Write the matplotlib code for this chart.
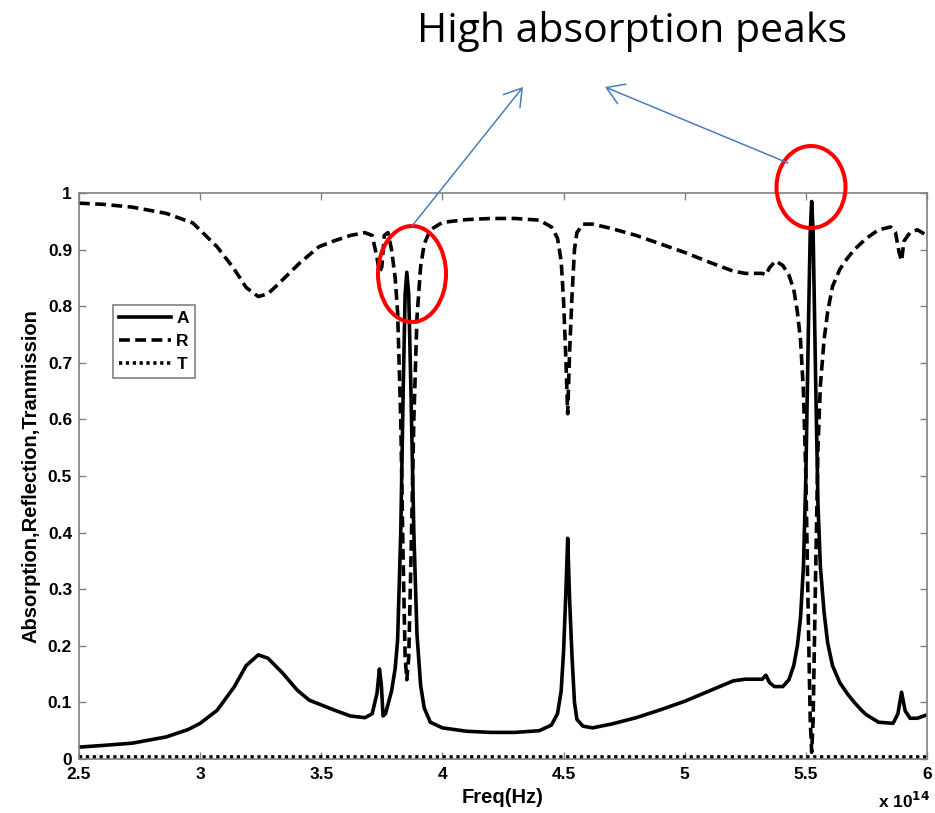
import matplotlib.pyplot as plt
from matplotlib.patches import Ellipse, FancyArrowPatch

# frequency in units of 1e14 Hz
freq_a = [2.50, 2.60, 2.72, 2.86, 2.95, 3.00, 3.07, 3.14, 3.19, 3.24, 3.28, 3.34,
          3.40, 3.45, 3.55, 3.62, 3.68, 3.71, 3.73, 3.74, 3.748, 3.755, 3.765, 3.78,
          3.79, 3.805, 3.815, 3.828, 3.838, 3.846, 3.853, 3.861, 3.870, 3.882, 3.895,
          3.91, 3.925, 3.95, 4.00, 4.10, 4.20, 4.30, 4.40, 4.45, 4.475, 4.49, 4.50,
          4.51, 4.517, 4.525, 4.535, 4.545, 4.555, 4.58, 4.62, 4.70, 4.80, 4.90, 5.00,
          5.10, 5.20, 5.25, 5.32, 5.335, 5.35, 5.37, 5.405, 5.43, 5.45, 5.465, 5.478,
          5.49, 5.50, 5.51, 5.518, 5.524, 5.53, 5.54, 5.55, 5.56, 5.575, 5.59, 5.61,
          5.64, 5.67, 5.70, 5.73, 5.75, 5.80, 5.86, 5.88, 5.895, 5.91, 5.93, 5.96, 6.00]
absorption = [0.021, 0.024, 0.028, 0.039, 0.052, 0.063, 0.086, 0.127, 0.165, 0.184, 0.178, 0.152,
              0.122, 0.104, 0.087, 0.076, 0.073, 0.080, 0.116, 0.159, 0.130, 0.076, 0.080, 0.104,
              0.120, 0.160, 0.210, 0.400, 0.650, 0.820, 0.860, 0.820, 0.650, 0.400, 0.220,
              0.130, 0.090, 0.065, 0.055, 0.049, 0.047, 0.047, 0.050, 0.060, 0.080, 0.120, 0.190,
              0.300, 0.390, 0.280, 0.180, 0.100, 0.070, 0.058, 0.055, 0.062, 0.073, 0.087, 0.102,
              0.120, 0.138, 0.141, 0.141, 0.148, 0.135, 0.128, 0.128, 0.140, 0.165, 0.200, 0.250,
              0.340, 0.500, 0.750, 0.930, 0.985, 0.930, 0.680, 0.450, 0.340, 0.260, 0.205, 0.165,
              0.135, 0.116, 0.100, 0.086, 0.078, 0.065, 0.063, 0.080, 0.118, 0.085, 0.072, 0.072, 0.078]

freq_r = [2.50, 2.60, 2.72, 2.86, 2.97, 3.07, 3.14, 3.19, 3.24, 3.28, 3.32, 3.41,
          3.49, 3.55, 3.62, 3.68, 3.71, 3.728, 3.74, 3.75, 3.76, 3.775, 3.79, 3.805,
          3.815, 3.828, 3.838, 3.846, 3.853, 3.861, 3.870, 3.882, 3.895, 3.91, 3.925,
          3.95, 4.00, 4.10, 4.20, 4.30, 4.40, 4.45, 4.475, 4.49, 4.50, 4.51, 4.517,
          4.525, 4.535, 4.545, 4.555, 4.58, 4.62, 4.70, 4.80, 4.90, 5.00, 5.10, 5.20,
          5.25, 5.32, 5.335, 5.35, 5.375, 5.405, 5.43, 5.45, 5.465, 5.478, 5.49, 5.50,
          5.51, 5.518, 5.524, 5.53, 5.54, 5.55, 5.56, 5.575, 5.59, 5.61, 5.64, 5.67,
          5.70, 5.75, 5.80, 5.85, 5.87, 5.885, 5.895, 5.905, 5.93, 5.96, 6.00]
reflection = [0.982, 0.980, 0.975, 0.964, 0.947, 0.905, 0.866, 0.833, 0.817, 0.822, 0.838, 0.876,
              0.905, 0.915, 0.925, 0.930, 0.925, 0.890, 0.860, 0.870, 0.925, 0.930, 0.900, 0.850,
              0.790, 0.600, 0.350, 0.180, 0.140, 0.180, 0.350, 0.600, 0.780, 0.870, 0.910,
              0.935, 0.948, 0.953, 0.955, 0.955, 0.952, 0.940, 0.920, 0.880, 0.810, 0.700, 0.610,
              0.720, 0.820, 0.900, 0.930, 0.945, 0.945, 0.937, 0.925, 0.910, 0.895, 0.878, 0.862,
              0.858, 0.858, 0.855, 0.868, 0.880, 0.872, 0.855, 0.830, 0.790, 0.740, 0.650, 0.500,
              0.250, 0.070, 0.012, 0.070, 0.320, 0.550, 0.660, 0.740, 0.790, 0.835, 0.865, 0.884,
              0.900, 0.920, 0.935, 0.940, 0.930, 0.895, 0.880, 0.915, 0.930, 0.935, 0.925]

freq_t = [2.5, 3.85, 4.52, 5.52, 6.0]
transmission = [0.003, 0.003, 0.003, 0.003, 0.003]

x_ticks = [2.5, 3, 3.5, 4, 4.5, 5, 5.5, 6]
x_tick_labels = ["2.5", "3", "3.5", "4", "4.5", "5", "5.5", "6"]
y_ticks = [0, 0.1, 0.2, 0.3, 0.4, 0.5, 0.6, 0.7, 0.8, 0.9, 1]
y_tick_labels = ["0", "0.1", "0.2", "0.3", "0.4", "0.5", "0.6", "0.7", "0.8", "0.9", "1"]

W, H = 935, 813


def px(x, y):
    """image pixel (from top-left) -> figure fraction"""
    return x / W, 1 - y / H


def main():
    plt.rcParams["font.family"] = ["Liberation Sans", "DejaVu Sans"]
    fig = plt.figure(figsize=(W / 100, H / 100), dpi=100)
    ax = fig.add_axes([79 / W, 1 - 759 / H, 848 / W, 566 / H])

    ax.plot(freq_a, absorption, color="black", lw=2.6, label="A")
    ax.plot(freq_r, reflection, color="black", lw=2.6, dashes=(3.0, 1.5), label="R")
    ax.plot(freq_t, transmission, color="black", lw=2.6, dashes=(0.9, 1.0), label="T")

    ax.set_xlim(2.5, 6)
    ax.set_ylim(0, 1)
    ax.set_xticks(x_ticks)
    ax.set_xticklabels(x_tick_labels, fontweight="bold", fontsize=12.5)
    ax.set_yticks(y_ticks)
    ax.set_yticklabels(y_tick_labels, fontweight="bold", fontsize=12.5)
    ax.tick_params(direction="in", top=True, right=True, length=5, width=1,
                   color="#808080")
    ax.tick_params(axis="x", pad=6)
    ax.tick_params(axis="y", pad=5)
    for s in ax.spines.values():
        s.set_color("#808080")
        s.set_linewidth(1.2)

    ax.set_xlabel("Freq(Hz)", fontweight="bold", fontsize=14.5, labelpad=4)
    ax.set_ylabel("Absorption,Reflection,Tranmission", fontweight="bold", fontsize=14.5,
                  labelpad=5)
    fig.text(*px(878, 808), "x 10$^{\\mathbf{14}}$", fontweight="bold", fontsize=12.5,
             va="baseline")

    leg = ax.legend(loc="upper left", bbox_to_anchor=(0.040, 0.802), borderaxespad=0,
                    fancybox=False, edgecolor="#808080", framealpha=1,
                    prop={"weight": "bold", "size": 12.5}, handlelength=3,
                    handletextpad=0.3, labelspacing=0.45, borderpad=0.35)
    leg.get_frame().set_linewidth(1.2)

    # annotation
    fig.text(*px(632, 42), "High absorption peaks", family="Open Sans",
             fontsize=29.5, ha="center", va="baseline")
    for cx, cy, w, h in [(412, 274, 68, 96), (811, 187, 69, 82)]:
        e = Ellipse(px(cx, cy), w / W, h / H, transform=fig.transFigure,
                    fill=False, edgecolor="#ff0000", lw=2.9)
        fig.add_artist(e)
    for tail, head in [((412, 226), (523, 87)), ((788, 163), (605, 87))]:
        arr = FancyArrowPatch(px(*tail), px(*head), transform=fig.transFigure,
                              arrowstyle="->,head_length=0.6,head_width=0.38",
                              mutation_scale=20, color="#4a7ebb", lw=1.1,
                              shrinkA=0, shrinkB=0)
        fig.add_artist(arr)

    fig.savefig("out.png", dpi=100)


if __name__ == "__main__":
    main()
